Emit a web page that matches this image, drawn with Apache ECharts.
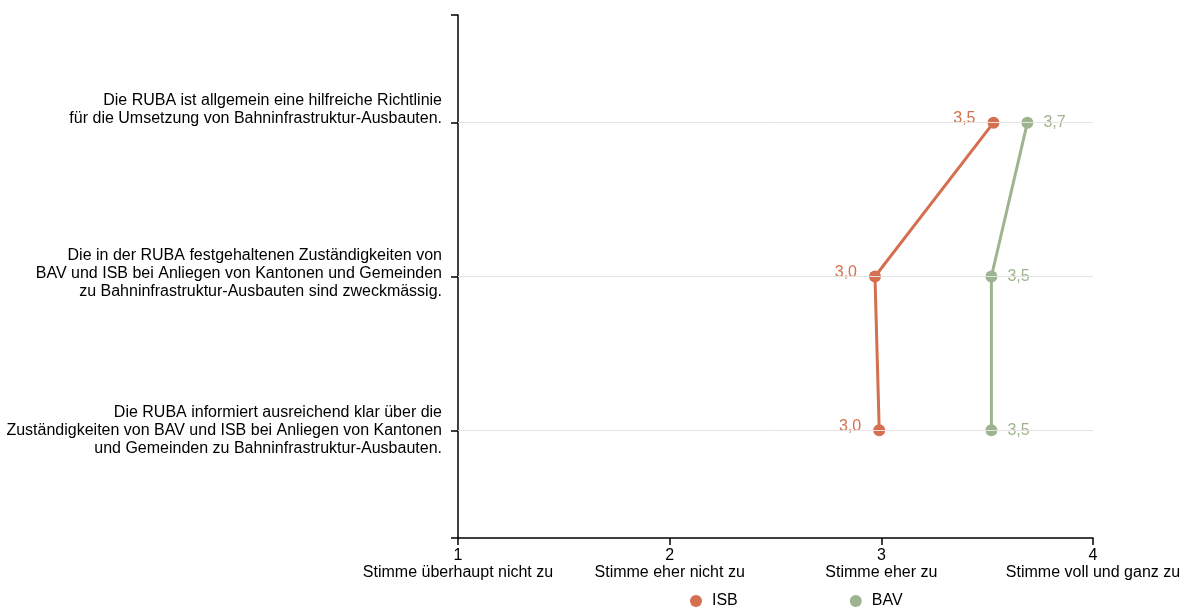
<!DOCTYPE html>
<html>
<head>
<meta charset="utf-8">
<script src="https://cdn.jsdelivr.net/npm/echarts@6/dist/echarts.min.js"></script>
<style>
html,body{margin:0;padding:0;background:#fff;}
#chart{width:1187px;height:613px;}
</style>
</head>
<body>
<div id="chart"></div>
<script>
const questionLabels = [
  ['Die RUBA ist allgemein eine hilfreiche Richtlinie', 'für die Umsetzung von Bahninfrastruktur-Ausbauten.'],
  ['Die in der RUBA festgehaltenen Zuständigkeiten von', 'BAV und ISB bei Anliegen von Kantonen und Gemeinden', 'zu Bahninfrastruktur-Ausbauten sind zweckmässig.'],
  ['Die RUBA informiert ausreichend klar über die', 'Zuständigkeiten von BAV und ISB bei Anliegen von Kantonen', 'und Gemeinden zu Bahninfrastruktur-Ausbauten.']
];
const scaleLabels = ['Stimme überhaupt nicht zu', 'Stimme eher nicht zu', 'Stimme eher zu', 'Stimme voll und ganz zu'];
const seriesNames = ['ISB', 'BAV'];
const isbValues = [3.53, 2.97, 2.99];
const bavValues = [3.69, 3.52, 3.52];

const FONT = 'Liberation Sans, Arial, sans-serif';
const ISB_COLOR = '#d4704f';
const BAV_COLOR = '#9db48f';
// extra bottom space under each y label block, to place it like the reference
const labelGapStyle = ['\n{g0| }', '\n{g1| }', ''];

const fmt = v => v.toFixed(1).replace('.', ',');

const chart = echarts.init(document.getElementById('chart'), null, {renderer: 'canvas'});
chart.setOption({
  animation: false,
  backgroundColor: '#fff',
  textStyle: {fontFamily: FONT},
  grid: {left: 458, right: 94, top: 15, bottom: 75, containLabel: false},
  legend: {
    data: seriesNames,
    left: 685,
    top: 588,
    icon: 'circle',
    itemWidth: 12,
    itemHeight: 12,
    itemGap: 112,
    textStyle: {fontSize: 16, color: '#000', fontFamily: FONT, padding: [0, 0, 0, 5]}
  },
  xAxis: {
    type: 'value',
    min: 1,
    max: 4,
    interval: 1,
    axisLine: {show: true, onZero: false, lineStyle: {color: '#000', width: 1.5}},
    axisTick: {show: true, length: 7, lineStyle: {color: '#000', width: 1.5}},
    splitLine: {show: false},
    axisLabel: {
      margin: 9,
      fontSize: 16,
      lineHeight: 17,
      color: '#000',
      fontFamily: FONT,
      formatter: v => v + '\n' + scaleLabels[Math.round(v) - 1]
    }
  },
  yAxis: {
    type: 'value',
    inverse: true,
    min: -0.7,
    max: 2.7,
    axisLine: {show: true, onZero: false, lineStyle: {color: '#000', width: 1.5}},
    axisTick: {show: true, length: 7, lineStyle: {color: '#000', width: 1.5}, customValues: [-0.7, 0, 1, 2, 2.7]},
    splitLine: {show: false},
    axisLabel: {
      customValues: [0, 1, 2],
      margin: 16,
      fontSize: 16,
      lineHeight: 18,
      color: '#000',
      fontFamily: FONT,
      align: 'right',
      verticalAlign: 'middle',
      rich: {
        g0: {lineHeight: 26, fontSize: 1},
        g1: {lineHeight: 6, fontSize: 1}
      },
      formatter: v => {
        const i = Math.round(v);
        return questionLabels[i].join('\n') + labelGapStyle[i];
      }
    }
  },
  series: [
    {
      name: 'grid',
      type: 'line',
      data: [],
      silent: true,
      z: 1,
      markLine: {
        silent: true,
        symbol: 'none',
        label: {show: false},
        lineStyle: {color: '#e3e3e3', width: 1, type: 'solid'},
        data: questionLabels.map((q, i) => ({yAxis: i}))
      }
    },
    {
      name: seriesNames[0],
      type: 'line',
      z: 3,
      data: isbValues.map((v, i) => [v, i]),
      color: ISB_COLOR,
      symbol: 'circle',
      symbolSize: 12,
      lineStyle: {width: 3, color: ISB_COLOR},
      itemStyle: {color: ISB_COLOR},
      label: {
        show: true,
        position: 'left',
        distance: 12,
        offset: [0, -4],
        fontSize: 16,
        color: ISB_COLOR,
        fontFamily: FONT,
        formatter: p => fmt(p.value[0])
      }
    },
    {
      name: seriesNames[1],
      type: 'line',
      z: 3,
      data: bavValues.map((v, i) => [v, i]),
      color: BAV_COLOR,
      symbol: 'circle',
      symbolSize: 12,
      lineStyle: {width: 3, color: BAV_COLOR},
      itemStyle: {color: BAV_COLOR},
      label: {
        show: true,
        position: 'right',
        distance: 10,
        fontSize: 16,
        color: BAV_COLOR,
        fontFamily: FONT,
        formatter: p => fmt(p.value[0])
      }
    }
  ]
});
</script>
</body>
</html>
